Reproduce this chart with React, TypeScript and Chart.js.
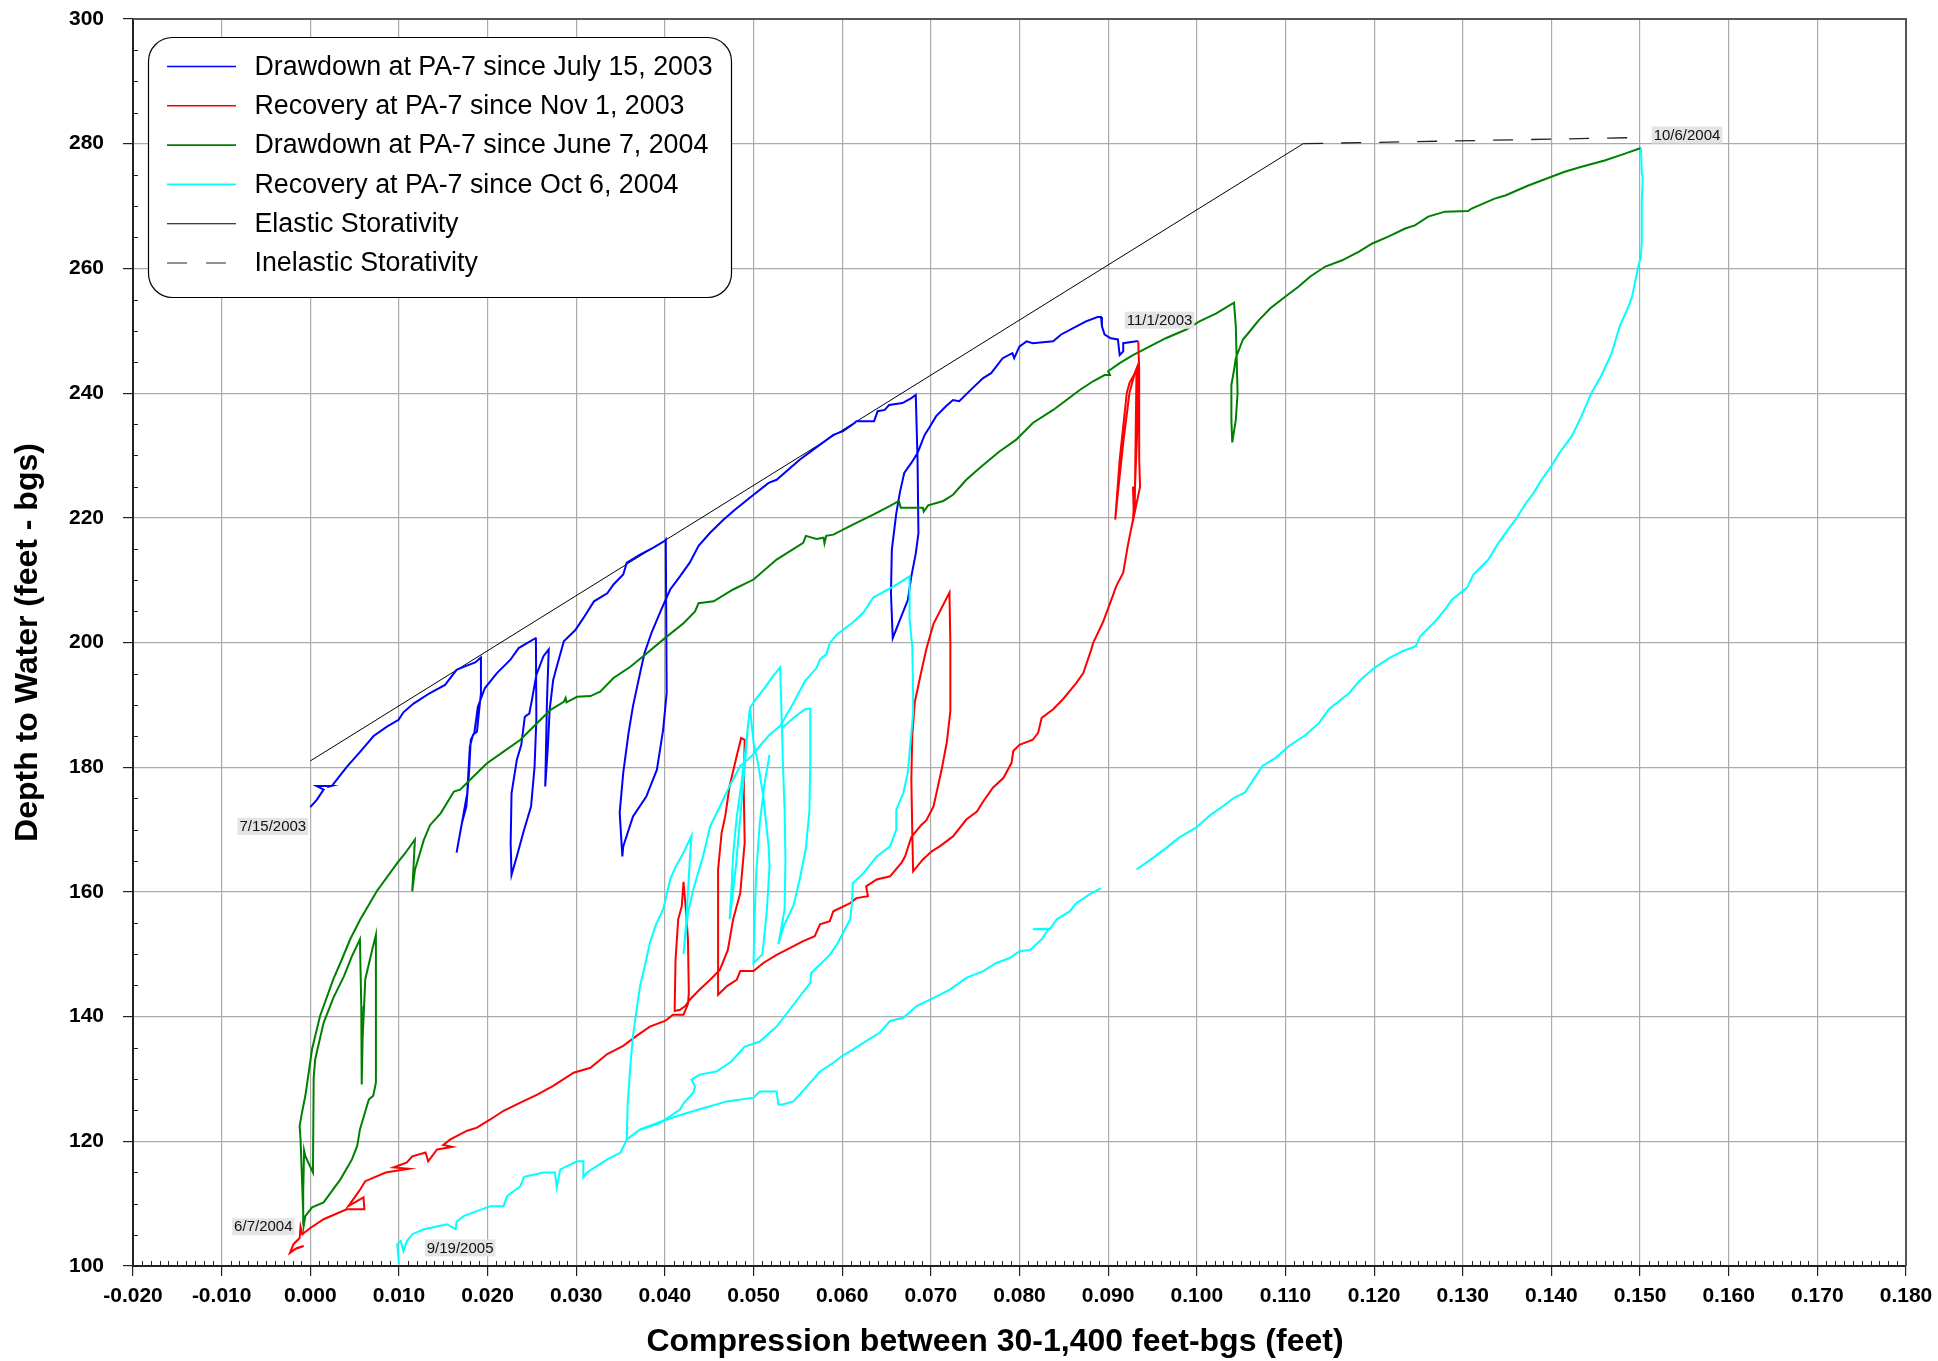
import React, { useEffect, useRef } from 'react';
import { Chart, registerables } from 'chart.js';

Chart.register(...registerables);

type Pt = [number, number];

const FONT = "'Liberation Sans', Arial, Helvetica, sans-serif";

// ---------------- axis settings ----------------
const xMin = -0.02;
const xMax = 0.18;
const xStep = 0.01;
const yMin = 100;
const yMax = 300;
const yStep = 20;

const xTitle = 'Compression between 30-1,400 feet-bgs (feet)';
const yTitle = 'Depth to Water (feet - bgs)';

const seriesLabels = [
  'Drawdown at PA-7 since July 15, 2003',
  'Recovery at PA-7 since Nov 1, 2003',
  'Drawdown at PA-7 since June 7, 2004',
  'Recovery at PA-7 since Oct 6, 2004',
  'Elastic Storativity',
  'Inelastic Storativity',
];

// ---------------- series values (compression ft, depth ft) ----------------
const blueDrawdown2003: Pt[] = [
  [0.0, 173.6], [0.00075, 174.8], [0.0015, 176.4], [0.0007, 177.0], [0.0024, 177.0], [0.0019, 176.8],
  [0.00244, 177.0], [0.00414, 180.1], [0.00564, 182.5], [0.00714, 185.0], [0.00865, 186.5], [0.00996, 187.6],
  [0.0105, 188.8], [0.01165, 190.2], [0.0135, 191.9], [0.0152, 193.2], [0.0165, 195.6], [0.0173, 196.1],
  [0.0186, 196.8], [0.01925, 197.6], [0.01925, 191.9], [0.0188, 185.7], [0.01835, 185.2], [0.018, 183.3],
  [0.0177, 175.8], [0.0165, 166.3], [0.0171, 171.0], [0.0176, 173.7], [0.0179, 179.0], [0.0181, 184.4],
  [0.0185, 185.5], [0.0189, 189.7], [0.0197, 192.7], [0.02105, 195.1], [0.02255, 197.2], [0.0235, 199.1],
  [0.0254, 200.7], [0.02545, 200.8], [0.0255, 187.6], [0.0253, 180.1], [0.0249, 173.7], [0.0241, 169.9],
  [0.0233, 165.7], [0.0227, 162.7], [0.0226, 167.8], [0.0227, 175.8], [0.0233, 181.2], [0.0238, 183.6],
  [0.0242, 188.1], [0.0247, 188.6], [0.025, 190.8], [0.0255, 194.8], [0.0263, 197.8], [0.0269, 198.9],
  [0.0267, 190.8], [0.0265, 176.9], [0.0268, 183.3], [0.027, 189.2], [0.0274, 194.0], [0.0278, 196.1],
  [0.0286, 200.2], [0.0299, 202.0], [0.0308, 203.9], [0.032, 206.6], [0.0335, 207.9], [0.0342, 209.3],
  [0.0353, 210.9], [0.0357, 212.8], [0.0372, 214.1], [0.0387, 215.2], [0.04, 216.3], [0.0401, 216.5],
  [0.0402, 191.9], [0.0398, 186.0], [0.0391, 179.6], [0.0379, 175.3], [0.0364, 172.1], [0.0353, 167.3],
  [0.0352, 165.7], [0.0349, 172.7], [0.0353, 179.1], [0.0359, 185.5], [0.0364, 189.8], [0.0372, 195.1],
  [0.0377, 198.3], [0.0385, 201.6], [0.0396, 205.3], [0.0406, 208.5], [0.0417, 210.6], [0.0428, 212.8],
  [0.0438, 215.5], [0.0451, 217.6], [0.0466, 219.7], [0.0479, 221.3], [0.05, 223.7], [0.0517, 225.6],
  [0.0526, 226.1], [0.0552, 229.3], [0.0567, 230.9], [0.059, 233.3], [0.0601, 233.9], [0.0614, 235.2],
  [0.0616, 235.5], [0.0636, 235.5], [0.064, 237.1], [0.0648, 237.3], [0.0653, 238.1], [0.0668, 238.4],
  [0.0678, 239.2], [0.0683, 239.7], [0.0685, 229.3], [0.0686, 217.5], [0.0683, 214.3], [0.0678, 210.6],
  [0.0674, 206.8], [0.0665, 203.6], [0.0657, 200.7], [0.0655, 207.9], [0.0656, 214.9], [0.0661, 220.7],
  [0.0665, 224.0], [0.067, 227.2], [0.0678, 228.8], [0.0685, 230.4], [0.0693, 233.3], [0.0698, 234.4],
  [0.0706, 236.3], [0.0717, 237.9], [0.0725, 238.9], [0.0732, 238.7], [0.0747, 240.8], [0.0759, 242.4],
  [0.0768, 243.2], [0.0781, 245.6], [0.0792, 246.4], [0.0794, 245.6], [0.08, 247.5], [0.0808, 248.3],
  [0.0815, 248.0], [0.0838, 248.3], [0.0847, 249.4], [0.086, 250.4], [0.0875, 251.5], [0.0888, 252.2],
  [0.0892, 252.2], [0.0893, 250.7], [0.0896, 249.4], [0.0903, 248.8], [0.0911, 248.6], [0.0913, 246.1],
  [0.0917, 246.7], [0.0917, 248.0], [0.0932, 248.3], [0.0934, 248.3],
];

const redRecovery2003: Pt[] = [
  [0.0934, 248.3], [0.0935, 243.7], [0.0935, 229.3], [0.0936, 225.0], [0.0929, 220.2], [0.0928, 225.0],
  [0.093, 221.8], [0.0932, 243.7], [0.0924, 241.6], [0.0921, 240.0], [0.0913, 229.3], [0.0908, 219.7],
  [0.0911, 224.0], [0.0917, 232.0], [0.0924, 240.0], [0.093, 243.2], [0.0933, 244.3], [0.0933, 234.7],
  [0.093, 224.0], [0.0928, 219.7], [0.0922, 215.4], [0.0917, 211.2], [0.0909, 209.0], [0.0905, 207.4],
  [0.0894, 203.2], [0.0883, 199.9], [0.0881, 198.9], [0.0872, 195.1], [0.0864, 193.5], [0.0849, 190.9],
  [0.0838, 189.3], [0.0825, 187.9], [0.0821, 185.5], [0.0815, 184.4], [0.08, 183.6], [0.0793, 182.6],
  [0.0791, 180.7], [0.0782, 178.3], [0.077, 176.7], [0.0759, 174.5], [0.0752, 172.9], [0.074, 171.6],
  [0.0725, 168.9], [0.071, 167.3], [0.0701, 166.5], [0.0691, 165.2], [0.068, 163.3], [0.0679, 170.0],
  [0.0678, 178.0], [0.0679, 185.0], [0.0682, 190.5], [0.0689, 195.2], [0.0695, 199.0], [0.0703, 203.0],
  [0.0721, 208.0], [0.0722, 200.0], [0.0722, 189.0], [0.0718, 184.0], [0.0712, 179.5], [0.0703, 173.7],
  [0.0695, 171.5], [0.0689, 170.7], [0.0678, 168.8], [0.0671, 165.7], [0.0667, 164.7], [0.0654, 162.5],
  [0.0639, 162.0], [0.0627, 160.9], [0.0629, 159.3], [0.0616, 159.0], [0.0609, 158.2], [0.059, 156.9],
  [0.0586, 155.3], [0.0575, 154.8], [0.0569, 152.9], [0.0556, 152.1], [0.0537, 150.7], [0.0526, 149.9],
  [0.0511, 148.6], [0.05, 147.3], [0.0485, 147.3], [0.0481, 145.9], [0.047, 144.9], [0.046, 143.5],
  [0.046, 151.0], [0.046, 159.8], [0.046, 163.6], [0.0464, 169.5], [0.0468, 172.1], [0.0473, 177.0],
  [0.0481, 181.8], [0.0486, 184.7], [0.049, 184.4], [0.0489, 175.9], [0.049, 167.9], [0.0485, 159.8],
  [0.0477, 155.6], [0.0471, 150.7], [0.0462, 147.5], [0.0451, 145.9], [0.0439, 144.3], [0.0428, 142.7],
  [0.0423, 141.7], [0.0417, 141.1], [0.0411, 140.9], [0.0412, 149.1], [0.0415, 155.6], [0.0419, 157.7],
  [0.0421, 161.6], [0.0424, 156.6], [0.0426, 152.4], [0.0427, 143.8], [0.0426, 142.0], [0.0421, 140.3],
  [0.0409, 140.3], [0.0402, 139.5], [0.04, 139.3], [0.0383, 138.4], [0.0368, 136.9], [0.0353, 135.3],
  [0.0335, 134.0], [0.0316, 131.8], [0.0297, 131.0], [0.0274, 128.9], [0.0256, 127.5], [0.0237, 126.2],
  [0.0218, 124.9], [0.0203, 123.5], [0.0188, 122.2], [0.0177, 121.7], [0.0158, 120.3], [0.015, 119.4],
  [0.016, 119.1], [0.0143, 118.7], [0.0133, 116.8], [0.013, 118.2], [0.0115, 117.6], [0.0109, 116.6],
  [0.0094, 115.8], [0.0111, 115.6], [0.0085, 115.0], [0.0062, 113.6], [0.0055, 112.0], [0.0043, 109.6],
  [0.006, 111.0], [0.0061, 109.1], [0.0041, 109.1], [0.0015, 107.5], [0.0, 106.1], [-0.0009, 105.1],
  [-0.0011, 106.3], [-0.0012, 104.5], [-0.0019, 103.5], [-0.0023, 102.1], [-0.0017, 102.7],
  [-0.00075, 103.2], [-0.0015, 102.9], [-0.0021, 102.4],
];

const greenDrawdown2004: Pt[] = [
  [-0.0008, 106.6], [-0.0008, 112.0], [-0.0007, 118.5], [-0.00056, 117.6], [0.0003, 115.0], [0.00038, 130.2],
  [0.00056, 133.2], [0.0015, 139.0], [0.0026, 143.0], [0.0038, 146.5], [0.0047, 149.7], [0.0056, 152.4],
  [0.00575, 141.7], [0.0058, 129.1], [0.0059, 136.4], [0.0062, 146.0], [0.007, 150.8], [0.0074, 153.1],
  [0.0074, 141.7], [0.0074, 129.4], [0.0071, 127.3], [0.0066, 126.7], [0.0056, 121.9], [0.0053, 119.3],
  [0.0047, 117.1], [0.0034, 113.9], [0.0015, 110.2], [0.0002, 109.4], [-0.00056, 108.0], [-0.00075, 106.4],
  [-0.0011, 120.3], [-0.0012, 122.5], [-0.00094, 124.6], [-0.00056, 127.3], [0.0002, 134.8], [0.0011, 140.1],
  [0.0026, 146.0], [0.00357, 149.2], [0.0045, 152.4], [0.0056, 155.5], [0.0075, 160.1], [0.0098, 164.6],
  [0.0107, 166.2], [0.0118, 168.4], [0.0115, 160.1], [0.0118, 163.5], [0.0128, 168.3], [0.0135, 170.7],
  [0.0147, 172.6], [0.0162, 176.1], [0.0169, 176.4], [0.0184, 178.5], [0.0199, 180.6], [0.0218, 182.5],
  [0.0237, 184.4], [0.0256, 187.1], [0.0271, 189.2], [0.0286, 190.5], [0.0288, 191.1], [0.0289, 190.4],
  [0.0301, 191.3], [0.0316, 191.4], [0.0327, 192.1], [0.0342, 194.3], [0.0361, 196.1], [0.038, 198.3],
  [0.04, 200.7], [0.0421, 203.1], [0.0434, 205.0], [0.0438, 206.3], [0.0444, 206.4], [0.0455, 206.6],
  [0.0477, 208.5], [0.05, 210.1], [0.0526, 213.3], [0.0556, 216.0], [0.0559, 217.1], [0.0571, 216.6],
  [0.0579, 216.8], [0.058, 215.9], [0.0582, 217.1], [0.059, 217.3], [0.0612, 218.9], [0.0635, 220.5],
  [0.0654, 221.9], [0.0664, 222.7], [0.0666, 221.6], [0.0691, 221.6], [0.0692, 221.0], [0.0697, 222.0],
  [0.0714, 222.7], [0.0725, 223.7], [0.074, 226.1], [0.0755, 228.0], [0.0777, 230.6], [0.0796, 232.5],
  [0.0815, 235.2], [0.0838, 237.3], [0.0853, 238.9], [0.0868, 240.5], [0.0883, 241.9], [0.0896, 242.9],
  [0.0902, 242.9], [0.09, 243.5], [0.0913, 244.8], [0.0928, 246.1], [0.0947, 247.5], [0.0965, 248.8],
  [0.0988, 250.2], [0.1003, 251.5], [0.1022, 252.8], [0.1042, 254.5], [0.1044, 250.7], [0.1045, 245.3],
  [0.1046, 240.0], [0.1044, 235.7], [0.104, 232.1], [0.1039, 235.7], [0.1039, 241.3], [0.1042, 243.7],
  [0.1044, 245.6], [0.1052, 248.6], [0.1058, 249.6], [0.107, 251.7], [0.1083, 253.6], [0.11, 255.5],
  [0.1115, 257.1], [0.1128, 258.7], [0.1145, 260.3], [0.1164, 261.3], [0.1183, 262.7], [0.1198, 264.0],
  [0.1216, 265.1], [0.1235, 266.4], [0.1246, 266.9], [0.1261, 268.3], [0.128, 269.1], [0.1306, 269.2],
  [0.131, 269.6], [0.1336, 271.2], [0.1348, 271.7], [0.1374, 273.3], [0.14, 274.7], [0.1415, 275.5],
  [0.1434, 276.3], [0.146, 277.3], [0.1483, 278.4], [0.1501, 279.3],
];

const cyanRecoveryUpper: Pt[] = [
  [0.1501, 279.3], [0.1502, 275.2], [0.1503, 274.7], [0.1502, 270.9], [0.1502, 264.5], [0.1501, 261.9],
  [0.1498, 260.3], [0.1491, 255.5], [0.1487, 253.9], [0.1477, 250.7], [0.1468, 246.4], [0.1456, 242.7],
  [0.1445, 240.0], [0.1434, 236.3], [0.1423, 233.1], [0.1409, 230.4], [0.14, 228.3], [0.1389, 226.1],
  [0.138, 224.0], [0.137, 222.1], [0.1361, 220.0], [0.135, 217.9], [0.1339, 215.7], [0.1329, 213.3],
  [0.1312, 210.9], [0.1305, 208.8], [0.1288, 206.9], [0.128, 205.3], [0.1269, 203.4], [0.1252, 201.0],
  [0.1247, 199.4], [0.1232, 198.6], [0.1217, 197.5], [0.12, 195.9], [0.1183, 193.8], [0.1172, 191.9],
  [0.1149, 189.3], [0.1138, 187.1], [0.1123, 185.2], [0.1104, 183.4], [0.1089, 181.5], [0.1074, 180.2],
  [0.1063, 177.8], [0.1054, 175.9], [0.1042, 175.1], [0.1029, 173.7], [0.1016, 172.4], [0.0999, 170.3],
  [0.098, 168.7], [0.0966, 167.1], [0.0951, 165.5], [0.0932, 163.6],
];

const cyanRecoveryLower: Pt[] = [
  [0.0892, 160.6], [0.0879, 159.6], [0.0864, 158.2], [0.0857, 156.9], [0.0842, 155.6], [0.0834, 154.0],
  [0.0815, 154.0], [0.0833, 154.1], [0.0825, 152.4], [0.0812, 150.7], [0.08, 150.5], [0.0789, 149.4],
  [0.0774, 148.6], [0.0759, 147.3], [0.074, 146.2], [0.0721, 144.3], [0.0703, 143.0], [0.0684, 141.7],
  [0.0669, 139.8], [0.0654, 139.3], [0.0642, 137.4], [0.0626, 136.0], [0.0612, 134.7], [0.0599, 133.6],
  [0.059, 132.6], [0.0575, 131.2], [0.0567, 129.9], [0.0554, 127.8], [0.0545, 126.4], [0.0533, 125.9],
  [0.0528, 125.9], [0.0526, 128.0], [0.0507, 128.0], [0.05, 127.0], [0.047, 126.4], [0.0443, 125.3],
  [0.0424, 124.5], [0.0402, 123.5], [0.0387, 122.7], [0.0372, 121.9], [0.0357, 120.3], [0.035, 118.2],
  [0.0335, 117.1], [0.0312, 115.0], [0.0308, 114.2], [0.0308, 116.8], [0.0301, 116.8], [0.0282, 115.5],
  [0.0278, 112.6], [0.0276, 115.0], [0.0263, 115.0], [0.0241, 114.3], [0.0237, 112.8], [0.0222, 111.2],
  [0.0218, 109.6], [0.0203, 109.6], [0.0173, 108.0], [0.0165, 107.1], [0.0164, 105.9], [0.0154, 106.7],
  [0.0135, 106.1], [0.0128, 105.9], [0.0115, 105.1], [0.0109, 104.0], [0.0105, 102.4], [0.0102, 104.0],
  [0.0098, 103.5], [0.01, 100.3],
];

const cyanPumpingCycle: Pt[] = [
  [0.0357, 120.3], [0.0358, 126.0], [0.0361, 132.0], [0.0364, 136.9], [0.0368, 141.0], [0.0372, 144.9],
  [0.0378, 148.5], [0.0383, 151.8], [0.039, 154.8], [0.0398, 157.2], [0.0406, 162.0], [0.0412, 164.0],
  [0.0421, 166.3], [0.043, 169.0], [0.0428, 164.9], [0.0426, 160.0], [0.0424, 155.0], [0.0421, 150.0],
  [0.0426, 156.6], [0.0432, 160.4], [0.0443, 165.7], [0.0451, 170.5], [0.0462, 173.7], [0.0473, 177.0],
  [0.0485, 180.2], [0.0498, 181.8], [0.0507, 183.4], [0.0518, 185.2], [0.053, 186.6], [0.0543, 189.8],
  [0.0558, 193.8], [0.0571, 195.9], [0.0575, 197.3], [0.0582, 198.1], [0.0586, 199.9], [0.0594, 201.3],
  [0.0612, 203.2], [0.0624, 204.8], [0.0635, 207.2], [0.0658, 209.0], [0.0676, 210.6], [0.0676, 203.7],
  [0.0679, 199.4], [0.068, 191.9], [0.068, 188.7], [0.0676, 182.3], [0.0674, 179.1], [0.0669, 175.9],
  [0.0661, 173.2], [0.0661, 170.0], [0.0654, 167.3], [0.0639, 165.7], [0.0624, 163.0], [0.0612, 161.4],
  [0.0611, 158.2], [0.0609, 155.6], [0.0595, 151.8], [0.0586, 149.9], [0.0565, 147.0], [0.0564, 145.4],
  [0.0545, 141.9], [0.0526, 138.4], [0.0507, 136.0], [0.049, 135.2], [0.0475, 132.8], [0.0458, 131.2],
  [0.0439, 130.7], [0.043, 129.9], [0.0434, 128.8], [0.0432, 127.8], [0.0421, 126.1], [0.0417, 125.1],
  [0.0394, 122.9], [0.0372, 121.9],
];

const cyanSpikesA: Pt[] = [
  [0.0494, 187.0], [0.049, 180.0], [0.0485, 172.0], [0.048, 164.0], [0.0476, 159.0], [0.0473, 155.6],
  [0.0475, 160.0], [0.0477, 166.0], [0.0481, 172.0], [0.0486, 177.0], [0.0491, 183.0], [0.0494, 187.0],
  [0.0496, 189.5], [0.0503, 191.0], [0.0513, 192.8], [0.0522, 194.6], [0.053, 196.0], [0.0532, 186.6],
  [0.0533, 181.2], [0.0535, 173.2], [0.0536, 165.2], [0.0535, 157.2], [0.0528, 151.6], [0.0534, 154.5],
  [0.0545, 157.8], [0.0552, 162.0], [0.0559, 167.0], [0.0563, 173.0], [0.0564, 181.0], [0.0564, 189.4],
  [0.0558, 189.3], [0.0545, 187.9], [0.0532, 186.3],
];

const cyanSpikesB: Pt[] = [
  [0.0496, 189.5], [0.05, 183.9], [0.0505, 180.7], [0.0511, 175.3], [0.0517, 167.3], [0.0518, 164.1],
  [0.0515, 157.0], [0.051, 150.0], [0.05, 148.6], [0.0501, 155.0], [0.0503, 163.0], [0.0507, 171.0],
  [0.0512, 177.0], [0.0518, 182.0],
];

const elasticLine: Pt[] = [[0.0, 181.0], [0.112, 280.0]];
const inelasticLine: Pt[] = [[0.112, 280.0], [0.1503, 281.0]];

const dateLabels = [
  { text: '7/15/2003', x: -0.00423, y: 170.5 },
  { text: '11/1/2003', x: 0.0958, y: 251.7 },
  { text: '10/6/2004', x: 0.1553, y: 281.4 },
  { text: '6/7/2004', x: -0.0053, y: 106.3 },
  { text: '9/19/2005', x: 0.0169, y: 102.9 },
];

// ---------------- helpers ----------------
const toXY = (pts: Pt[]) => pts.map(([x, y]) => ({ x, y }));

function line(label: string, pts: Pt[], color: string, width: number, order: number, legend: boolean, dash: number[] = []) {
  return {
    label,
    data: toXY(pts),
    showLine: true,
    borderColor: color,
    backgroundColor: color,
    borderWidth: width,
    borderDash: dash,
    pointRadius: 0,
    pointHoverRadius: 0,
    fill: false,
    tension: 0,
    order,
    inLegend: legend,
  };
}

function roundRectPath(ctx: CanvasRenderingContext2D, x: number, y: number, w: number, h: number, r: number) {
  ctx.beginPath();
  ctx.moveTo(x + r, y);
  ctx.lineTo(x + w - r, y);
  ctx.arcTo(x + w, y, x + w, y + r, r);
  ctx.lineTo(x + w, y + h - r);
  ctx.arcTo(x + w, y + h, x + w - r, y + h, r);
  ctx.lineTo(x + r, y + h);
  ctx.arcTo(x, y + h, x, y + h - r, r);
  ctx.lineTo(x, y + r);
  ctx.arcTo(x, y, x + r, y, r);
  ctx.closePath();
}

const decorPlugin = {
  id: 'decor',
  beforeDraw(chart: any) {
    const ctx = chart.ctx;
    ctx.save();
    ctx.fillStyle = '#ffffff';
    ctx.fillRect(0, 0, chart.width, chart.height);
    ctx.restore();
  },
  afterDatasetsDraw(chart: any) {
    const ctx = chart.ctx as CanvasRenderingContext2D;
    const xs = chart.scales.x;
    const ys = chart.scales.y;
    const area = chart.chartArea;
    ctx.save();
    // top / right frame
    ctx.strokeStyle = '#555555';
    ctx.lineWidth = 2;
    ctx.beginPath();
    ctx.moveTo(area.left, area.top);
    ctx.lineTo(area.right, area.top);
    ctx.lineTo(area.right, area.bottom);
    ctx.stroke();
    // minor ticks
    ctx.strokeStyle = '#222222';
    ctx.lineWidth = 1;
    ctx.beginPath();
    for (let i = 0; i <= 200; i++) {
      if (i % 10 === 0) continue;
      const px = Math.round(xs.getPixelForValue(xMin + i * 0.001)) + 0.5;
      ctx.moveTo(px, area.bottom);
      ctx.lineTo(px, area.bottom - 5);
    }
    for (let v = yMin; v <= yMax; v += 5) {
      if (v % 20 === 0) continue;
      const py = Math.round(ys.getPixelForValue(v)) + 0.5;
      ctx.moveTo(area.left, py);
      ctx.lineTo(area.left + 5, py);
    }
    ctx.stroke();

    // date annotations
    ctx.font = `15px ${FONT}`;
    ctx.textAlign = 'center';
    ctx.textBaseline = 'middle';
    for (const d of dateLabels) {
      const px = xs.getPixelForValue(d.x);
      const py = ys.getPixelForValue(d.y);
      const w = ctx.measureText(d.text).width + 4;
      ctx.fillStyle = '#e4e4e4';
      ctx.fillRect(px - w / 2, py - 8.5, w, 17);
      ctx.fillStyle = '#111111';
      ctx.fillText(d.text, px, py + 0.5);
    }

    // axis titles
    ctx.fillStyle = '#000000';
    ctx.font = `bold 32px ${FONT}`;
    ctx.textAlign = 'center';
    ctx.textBaseline = 'middle';
    ctx.fillText(xTitle, 995, 1342);
    ctx.save();
    ctx.translate(28, (area.top + area.bottom) / 2);
    ctx.rotate(-Math.PI / 2);
    ctx.fillText(yTitle, 0, 0);
    ctx.restore();

    // legend box
    const L = 148, T = 37, R = 731, B = 297;
    roundRectPath(ctx, L + 0.5, T + 0.5, R - L, B - T, 24);
    ctx.fillStyle = '#ffffff';
    ctx.fill();
    ctx.strokeStyle = '#000000';
    ctx.lineWidth = 1.2;
    ctx.stroke();
    const entries = chart.data.datasets.filter((d: any) => d.inLegend);
    entries.forEach((d: any, i: number) => {
      const y = 66.5 + i * 39.3;
      ctx.beginPath();
      ctx.setLineDash(d.borderDash && d.borderDash.length ? [20, 19] : []);
      ctx.strokeStyle = d.borderColor;
      ctx.lineWidth = d.borderWidth > 1.5 ? 1.6 : 1.1;
      ctx.moveTo(167, y);
      ctx.lineTo(236, y);
      ctx.stroke();
      ctx.setLineDash([]);
      ctx.fillStyle = '#000000';
      ctx.font = `26.8px ${FONT}`;
      ctx.textAlign = 'left';
      ctx.textBaseline = 'middle';
      ctx.fillText(d.label, 254.5, y + 1);
    });
    ctx.restore();
  },
};

export default function App() {
  const canvasRef = useRef<HTMLCanvasElement | null>(null);

  useEffect(() => {
    document.body.style.margin = '0';
    const canvas = canvasRef.current;
    if (!canvas) return;

    const datasets: any[] = [
      line(seriesLabels[0], blueDrawdown2003, '#0000ff', 2, 4, true),
      line(seriesLabels[1], redRecovery2003, '#ff0000', 2, 2, true),
      line(seriesLabels[2], greenDrawdown2004, '#008000', 2, 3, true),
      line(seriesLabels[3], cyanRecoveryUpper, '#00ffff', 2, 1, true),
      line(seriesLabels[4], elasticLine, '#000000', 1, 5, true),
      line(seriesLabels[5], inelasticLine, '#222222', 1.3, 5, true, [20, 18]),
      line(seriesLabels[3], cyanRecoveryLower, '#00ffff', 2, 1, false),
      line(seriesLabels[3], cyanPumpingCycle, '#00ffff', 2, 1, false),
      line(seriesLabels[3], cyanSpikesA, '#00ffff', 2, 1, false),
      line(seriesLabels[3], cyanSpikesB, '#00ffff', 2, 1, false),
    ];

    const tickFont = { family: FONT, size: 21, weight: 'bold' as const };

    const chart = new Chart(canvas, {
      type: 'scatter',
      data: { datasets },
      options: {
        responsive: false,
        animation: false,
        devicePixelRatio: 1,
        events: [],
        layout: { padding: { left: 0, right: 32, top: 19, bottom: 0 } },
        plugins: {
          legend: { display: false },
          tooltip: { enabled: false },
          title: { display: false },
        },
        scales: {
          x: {
            type: 'linear',
            min: xMin,
            max: xMax,
            ticks: {
              stepSize: xStep,
              autoSkip: false,
              maxRotation: 0,
              padding: 8,
              color: '#000000',
              font: tickFont,
              callback: (v: any) => {
                const n = Number(v);
                return Math.abs(n) < 1e-9 ? '0.000' : n.toFixed(3);
              },
            },
            grid: { color: '#ababab', lineWidth: 1.2, tickLength: 10, tickColor: '#222222', drawTicks: true },
            border: { display: true, color: '#222222', width: 2 },
            afterFit: (scale: any) => {
              scale.height = 95;
              scale.paddingLeft = 0;
              scale.paddingRight = 0;
            },
          },
          y: {
            type: 'linear',
            min: yMin,
            max: yMax,
            ticks: {
              stepSize: yStep,
              autoSkip: false,
              padding: 19,
              color: '#000000',
              font: tickFont,
            },
            grid: { color: '#ababab', lineWidth: 1.2, tickLength: 10, tickColor: '#222222', drawTicks: true },
            border: { display: true, color: '#222222', width: 2 },
            afterFit: (scale: any) => {
              scale.width = 133;
              scale.paddingTop = 0;
              scale.paddingBottom = 0;
            },
          },
        },
      },
      plugins: [decorPlugin],
    } as any);

    return () => {
      chart.destroy();
    };
  }, []);

  return (
    <div style={{ position: 'fixed', left: 0, top: 0, width: 1938, height: 1361, background: '#fff' }}>
      <canvas ref={canvasRef} width={1938} height={1361} style={{ width: 1938, height: 1361, display: 'block' }} />
    </div>
  );
}
